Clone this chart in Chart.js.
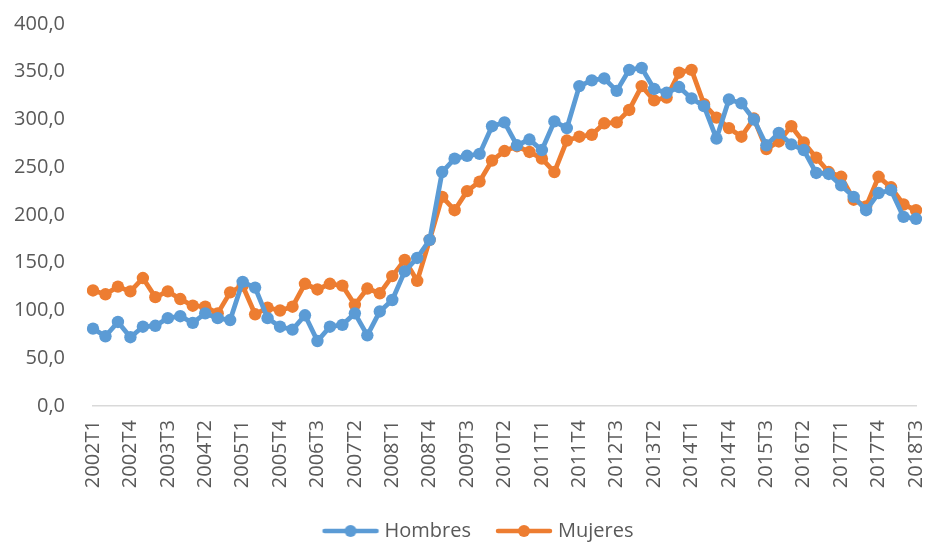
<!DOCTYPE html>
<html>
<head>
<meta charset="utf-8">
<script src="https://cdn.jsdelivr.net/npm/chart.js@4"></script>
<style>
html,body{margin:0;padding:0;background:#fff;}
#wrap{width:928px;height:544px;position:relative;}
</style>
</head>
<body>
<div id="wrap"><canvas id="c" width="928" height="544"></canvas></div>
<script>
const years = [];
for (let y = 2002; y <= 2018; y++) for (let q = 1; q <= 4; q++) { if (y === 2018 && q > 3) break; years.push(y + 'T' + q); }
const categories = years;
const hombres = [81,73,88,72,83,84,92,94,87,97,92,90,
  130,124,92,83,80,95,68,83,85,97,74,99,
  111,141,155,174,245,259,262,264,293,297,273,279,
  268,298,291,335,341,343,330,352,354,332,328,334,
  322,314,280,321,317,300,273,286,274,268,244,243,
  231,219,205,223,226,198,196];
const mujeres = [121,117,125,120,134,114,120,112,105,104,97,119,
  126,96,103,100,104,128,122,128,126,106,123,118,
  136,153,131,174,219,205,225,235,257,267,272,266,
  259,245,278,282,284,296,297,310,335,320,323,349,
  352,316,302,291,282,301,269,277,293,276,260,245,
  240,216,209,240,229,211,205];
const yTicks = [0,50,100,150,200,250,300,350,400];
const seriesNames = ['Hombres','Mujeres'];
const colors = ['#5B9BD5','#ED7D31'];

function legendIcon(color){
  const cv = document.createElement('canvas');
  cv.width = 60; cv.height = 14;
  const g = cv.getContext('2d');
  g.strokeStyle = color; g.lineWidth = 4.5; g.lineCap = 'round';
  g.beginPath(); g.moveTo(4,7); g.lineTo(56,7); g.stroke();
  g.fillStyle = color; g.beginPath(); g.arc(30,7,6,0,Math.PI*2); g.fill();
  return cv;
}
const icons = colors.map(legendIcon);
const font = "'Open Sans'";
const grey = '#595959';

const legendShift = {
  id: 'legendShift',
  afterLayout(chart) {
    const lg = chart.legend;
    if (lg) { lg.left += 17; lg.right += 17; }
  }
};

new Chart(document.getElementById('c'), {
  type: 'line',
  data: {
    labels: categories,
    datasets: [hombres, mujeres].map((d, i) => ({
      label: seriesNames[i],
      data: d,
      borderColor: colors[i],
      backgroundColor: colors[i],
      pointBackgroundColor: colors[i],
      pointBorderColor: colors[i],
      borderWidth: 4.8,
      pointRadius: 6.2,
      pointBorderWidth: 0,
      tension: 0,
      borderJoinStyle: 'round',
      pointStyle: 'circle'
    }))
  },
  plugins: [legendShift],
  options: {
    responsive: false,
    animation: false,
    devicePixelRatio: 1,
    layout: { padding: { left: 10, right: 12, top: 24, bottom: -7 } },
    plugins: {
      tooltip: { enabled: false },
      legend: {
        position: 'bottom',
        labels: {
          color: grey,
          font: { family: font, size: 20 },
          usePointStyle: true,
          pointStyleWidth: 48,
          padding: 29,
          generateLabels: (chart) => chart.data.datasets.map((ds, i) => ({
            text: ds.label, pointStyle: icons[i], fillStyle: colors[i],
            strokeStyle: colors[i], lineWidth: 0, datasetIndex: i, fontColor: grey
          }))
        }
      }
    },
    scales: {
      x: {
        offset: false,
        grid: { display: false, drawTicks: false },
        border: { display: true, color: '#d9d9d9', width: 1.5 },
        ticks: {
          color: grey, font: { family: font, size: 20 },
          autoSkip: false, minRotation: 90, maxRotation: 90, padding: 14,
          callback: function(v, i){ return i % 3 === 0 ? categories[i] : ''; }
        },
        afterFit: (s) => { s.height = 86; s.paddingLeft = 0; s.paddingRight = 0; }
      },
      y: {
        min: 0, max: 400,
        afterBuildTicks: (s) => { s.ticks = yTicks.map(v => ({ value: v })); },
        grid: { display: false, drawTicks: false },
        border: { display: false },
        ticks: {
          color: grey, font: { family: font, size: 20 }, padding: 28,
          callback: (v) => Number(v).toFixed(1).replace('.', ',')
        },
        afterFit: (s) => { s.width = 83; s.paddingTop = 0; s.paddingBottom = 0; }
      }
    }
  }
});
</script>
</body>
</html>
